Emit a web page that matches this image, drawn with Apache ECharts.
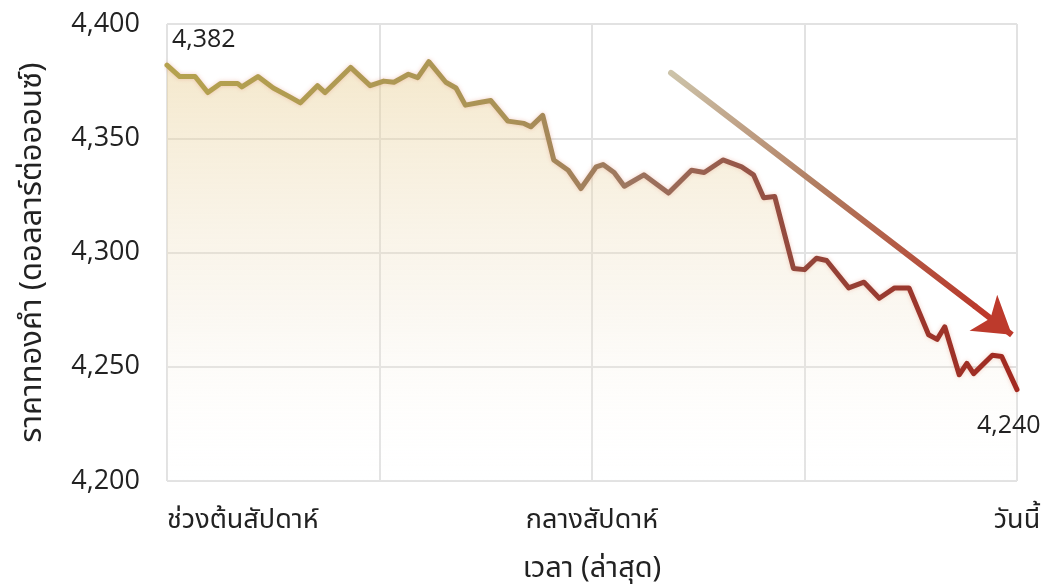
<!DOCTYPE html>
<html>
<head>
<meta charset="utf-8">
<script src="https://cdn.jsdelivr.net/npm/echarts@6/dist/echarts.min.js"></script>
<style>html,body{margin:0;padding:0;background:#fff}#c{width:1050px;height:588px}</style>
</head>
<body>
<div id="c"></div>
<script>
// time position (0 = start of week, 100 = today)
const timePos = [0,1.5,3.3,4.8,6.3,8.3,8.8,10.7,12.5,14.5,15.7,17.7,18.6,21.6,23.9,25.5,26.7,28.4,29.5,30.8,32.8,34.0,35.1,36.6,38.1,40.1,42.0,42.8,44.2,45.5,47.2,48.7,50.5,51.3,52.6,53.8,56.1,59.0,61.7,63.2,65.4,67.6,69.0,70.2,71.5,73.7,75.0,76.4,77.6,80.2,82.0,83.8,85.6,87.3,89.6,90.6,91.5,93.2,94.1,94.9,97.1,98.2,100];
const price = [4382,4377,4377,4370,4374,4374,4372.5,4377,4372,4368,4365.5,4373,4370,4381,4373,4375,4374.5,4378,4376.5,4383.5,4374.5,4372,4364.5,4365.5,4366.5,4357.5,4356.5,4355,4360,4340.5,4336,4328,4337.5,4338.5,4335,4329,4334,4326,4336,4335,4340.5,4337.5,4334,4324,4324.5,4293,4292.5,4297.5,4296.5,4284.5,4287,4280,4284.5,4284.5,4264,4262,4267.5,4246.5,4251.5,4247,4255,4254.5,4240];
const xTickLabels = {0:'ช่วงต้นสัปดาห์', 50:'กลางสัปดาห์', 100:'วันนี้'};
const yTicks = [4200,4250,4300,4350,4400];
const trendStart = [59.3, 4378.6];
const trendHead = [95.0, 4276.6];
const trendEnd = [99.4, 4264];

const thaiFont = "'Noto Sans Thai','Noto Sans','Open Sans',sans-serif";
const numFont = "'Open Sans',sans-serif";
const G = echarts.graphic.LinearGradient;

const seriesData = timePos.map((t, i) => {
  const item = { value: [t, price[i]] };
  if (i === 0) {
    item.label = { show: true, position: [5, -38] };
  } else if (i === price.length - 1) {
    item.label = { show: true, position: [-40, 24] };
  }
  return item;
});

const chart = echarts.init(document.getElementById('c'), null, { renderer: 'canvas' });
chart.setOption({
  animation: false,
  grid: { left: 167, right: 33, top: 24, bottom: 107, containLabel: false, outerBoundsMode: 'none' },
  xAxis: {
    type: 'value', min: 0, max: 100, interval: 25,
    name: 'เวลา (ล่าสุด)', nameLocation: 'middle', nameGap: 76,
    nameTextStyle: { fontFamily: thaiFont, fontSize: 29, color: '#222' },
    axisLine: { show: false }, axisTick: { show: false },
    axisLabel: {
      margin: 28, fontFamily: thaiFont, fontSize: 27, color: '#222',
      alignMinLabel: 'left', alignMaxLabel: 'center',
      formatter: v => xTickLabels[v] || ''
    },
    splitLine: { show: true, lineStyle: { color: '#e2e2e2', width: 2 } }
  },
  yAxis: {
    type: 'value', min: yTicks[0], max: yTicks[yTicks.length - 1], interval: 50,
    name: 'ราคาทองคำ (ดอลลาร์ต่อออนซ์)', nameLocation: 'middle', nameGap: 117, nameRotate: 90,
    nameTextStyle: { fontFamily: thaiFont, fontSize: 31, color: '#222' },
    axisLine: { show: false }, axisTick: { show: false },
    axisLabel: { margin: 27, fontFamily: numFont, fontSize: 27, color: '#222',
      formatter: v => v.toLocaleString('en-US') },
    splitLine: { show: true, lineStyle: { color: '#e2e2e2', width: 2 } }
  },
  series: [{
    type: 'line',
    data: seriesData,
    symbol: 'circle',
    symbolSize: 0,
    showAllSymbol: true,
    smooth: false,
    lineStyle: {
      width: 5, cap: 'round', join: 'round',
      color: new G(0, 0, 1, 0, [
        { offset: 0, color: '#b5a24e' },
        { offset: 0.4, color: '#aa9256' },
        { offset: 0.55, color: '#9c7460' },
        { offset: 0.75, color: '#93453a' },
        { offset: 1, color: '#a3281f' }
      ]),
      shadowColor: 'rgba(220,120,90,0.35)', shadowBlur: 4
    },
    itemStyle: { color: 'rgba(0,0,0,0)' },
    areaStyle: {
      color: new G(0, 0, 0, 1, [
        { offset: 0, color: 'rgba(232,206,145,0.66)' },
        { offset: 0.6, color: 'rgba(240,228,205,0.38)' },
        { offset: 1, color: 'rgba(255,255,255,0.05)' }
      ])
    },
    label: { fontFamily: numFont, fontSize: 25, color: '#222',
      formatter: p => p.value[1].toLocaleString('en-US') },
    labelLayout: { hideOverlap: false },
    markLine: {
      silent: true,
      label: { show: false },
      data: [
        [{ coord: trendStart, symbol: 'none',
           lineStyle: { width: 6, type: 'solid', cap: 'round',
             color: new G(0, 0, 1, 1, [
               { offset: 0, color: '#cdc5ab' },
               { offset: 0.5, color: '#b07a5e' },
               { offset: 1, color: '#b8392b' }
             ]) } },
         { coord: trendHead, symbol: 'none' }],
        [{ coord: trendHead, symbol: 'none',
           lineStyle: { width: 6, type: 'solid', color: '#bd3a2c' } },
         { coord: trendEnd, symbol: 'arrow', symbolSize: [34, 36] }]
      ]
    }
  }]
});
</script>
</body>
</html>
